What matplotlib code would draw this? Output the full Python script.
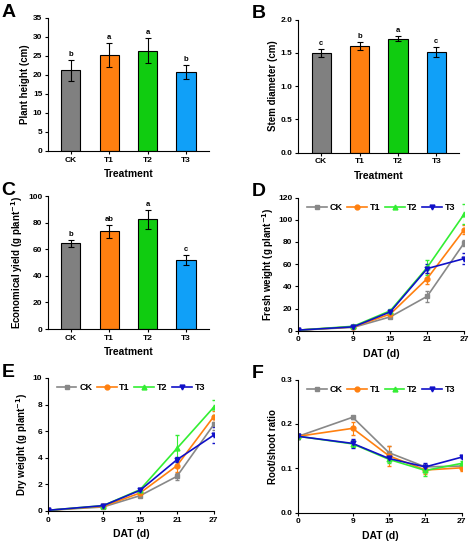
import numpy as np
import matplotlib
matplotlib.use("Agg")
import matplotlib.pyplot as plt
from matplotlib.lines import Line2D

plt.rcParams["font.family"] = ["Liberation Sans", "DejaVu Sans"]
plt.rcParams["font.weight"] = "bold"
plt.rcParams["axes.labelweight"] = "bold"
plt.rcParams["font.size"] = 6.5

# ---------------- data ----------------
treatments = ["CK", "T1", "T2", "T3"]
bar_colors = ["#808080", "#FF8010", "#10CC10", "#10A0F8"]
line_colors = ["#888888", "#FF8010", "#33EE33", "#1010C8"]
markers = ["s", "o", "^", "v"]

height = [21.2, 25.2, 26.4, 20.8]
height_err = [2.8, 3.2, 3.2, 1.8]
height_letters = ["b", "a", "a", "b"]

stem = [1.50, 1.60, 1.71, 1.51]
stem_err = [0.06, 0.06, 0.04, 0.07]
stem_letters = ["c", "b", "a", "c"]

yield_ = [64.5, 73.5, 82.5, 52.0]
yield_err = [2.5, 5.0, 7.0, 3.5]
yield_letters = ["b", "ab", "a", "c"]

days = [0, 9, 15, 21, 27]
fresh = {
    "CK": [0.5, 3.0, 12.5, 31, 79],
    "T1": [0.5, 3.5, 15.0, 47, 91],
    "T2": [0.5, 4.0, 18.0, 57, 105],
    "T3": [0.5, 3.5, 17.0, 56, 65],
}
fresh_err = {
    "CK": [0.3, 0.5, 1.0, 5, 3],
    "T1": [0.3, 0.5, 1.0, 5, 4],
    "T2": [0.3, 0.5, 1.5, 7, 9],
    "T3": [0.3, 0.5, 1.0, 4, 5],
}
dry = {
    "CK": [0.05, 0.30, 1.15, 2.6, 6.5],
    "T1": [0.05, 0.35, 1.35, 3.4, 7.1],
    "T2": [0.05, 0.40, 1.60, 4.7, 7.8],
    "T3": [0.05, 0.40, 1.55, 3.85, 5.7],
}
dry_err = {
    "CK": [0.02, 0.05, 0.1, 0.25, 0.4],
    "T1": [0.02, 0.05, 0.1, 0.5, 0.4],
    "T2": [0.02, 0.05, 0.1, 1.0, 0.55],
    "T3": [0.02, 0.05, 0.1, 0.2, 0.6],
}
ratio = {
    "CK": [0.172, 0.215, 0.135, 0.103, 0.105],
    "T1": [0.172, 0.190, 0.128, 0.096, 0.101],
    "T2": [0.172, 0.155, 0.120, 0.095, 0.111],
    "T3": [0.172, 0.156, 0.122, 0.103, 0.125],
}
ratio_err = {
    "CK": [0.005, 0.003, 0.015, 0.005, 0.005],
    "T1": [0.005, 0.015, 0.022, 0.008, 0.008],
    "T2": [0.005, 0.008, 0.008, 0.012, 0.005],
    "T3": [0.005, 0.010, 0.006, 0.008, 0.003],
}

fig = plt.figure(figsize=(4.74, 5.43), dpi=100)
left_x, right_x, w, h = 0.101, 0.629, 0.340, 0.245
rows = [0.722, 0.394, 0.059]


def style(ax):
    for s in ["top", "right"]:
        ax.spines[s].set_visible(False)
    ax.tick_params(width=0.8, length=2.5, pad=1.5, labelsize=6)
    for lab in ax.get_xticklabels() + ax.get_yticklabels():
        lab.set_fontweight("bold")


def add_tag(pos, tag):
    fig.text(pos[0] - 0.098, pos[1] + pos[3] - 0.005, tag, fontsize=14,
             fontweight="bold", va="bottom")


def bar_panel(pos, vals, errs, letters, ylim, yticks, ylabel, fmt, tag):
    ax = fig.add_axes(pos)
    x = np.arange(len(treatments))
    ax.bar(x, vals, width=0.5, color=bar_colors, edgecolor="black", linewidth=0.8,
           yerr=errs, capsize=2, error_kw=dict(elinewidth=0.8, capthick=0.8))
    for xi, v, e, l in zip(x, vals, errs, letters):
        ax.text(xi, v + e + ylim[1] * 0.015, l, ha="center", va="bottom", fontsize=5.5)
    ax.set_xlim(-0.6, 3.6)
    ax.set_ylim(*ylim)
    ax.set_yticks(yticks)
    ax.set_yticklabels([fmt.format(t) for t in yticks])
    ax.set_xticks(x)
    ax.set_xticklabels(treatments)
    ax.set_ylabel(ylabel, fontsize=7, labelpad=2)
    ax.set_xlabel("Treatment", fontsize=7.5, labelpad=4)
    style(ax)
    add_tag(pos, tag)
    return ax


def line_panel(pos, data, errs, ylim, yticks, ylabel, fmt, tag):
    ax = fig.add_axes(pos)
    handles = []
    for name, c, m in zip(treatments, line_colors, markers):
        ax.errorbar(days, data[name], yerr=errs[name], color=c, marker=m, markersize=3.5,
                    linewidth=1.2, elinewidth=0.8, capsize=1.5)
        handles.append(Line2D([], [], color=c, marker=m, markersize=3.5,
                              linewidth=1.2, label=name))
    ax.set_xlim(0, 27)
    ax.set_ylim(*ylim)
    ax.set_xticks(days)
    ax.set_yticks(yticks)
    ax.set_yticklabels([fmt.format(t) for t in yticks])
    ax.set_xlabel("DAT (d)", fontsize=7.5, labelpad=4)
    ax.set_ylabel(ylabel, fontsize=7, labelpad=2)
    ax.legend(handles=handles, loc="upper left", ncol=4, frameon=False,
              handlelength=2.2, columnspacing=0.5, handletextpad=0.3,
              borderaxespad=0.2, bbox_to_anchor=(0.02, 1.0),
              prop=dict(weight="bold", size=6.5))
    style(ax)
    add_tag(pos, tag)
    return ax


bar_panel([left_x, rows[0], w, h], height, height_err, height_letters, (0, 35),
          [0, 5, 10, 15, 20, 25, 30, 35], "Plant height (cm)", "{:.0f}", "A")
bar_panel([right_x, rows[0] - 0.003, w, h], stem, stem_err, stem_letters, (0, 2.0),
          [0, 0.5, 1.0, 1.5, 2.0], "Stem diameter (cm)", "{:.1f}", "B")
bar_panel([left_x, rows[1], w, h], yield_, yield_err, yield_letters, (0, 100),
          [0, 20, 40, 60, 80, 100], "Economical yield (g plant$^{-1}$)", "{:.0f}", "C")
line_panel([right_x, rows[1] - 0.003, 0.35, h], fresh, fresh_err, (0, 120),
           [0, 20, 40, 60, 80, 100, 120], "Fresh weight (g plant$^{-1}$)", "{:.0f}", "D")
line_panel([left_x, rows[2], 0.35, h], dry, dry_err, (0, 10),
           [0, 2, 4, 6, 8, 10], "Dry weight (g plant$^{-1}$)", "{:.0f}", "E")
line_panel([right_x, rows[2] - 0.003, 0.345, h], ratio, ratio_err, (0, 0.3),
           [0, 0.1, 0.2, 0.3], "Root/shoot ratio", "{:.1f}", "F")

fig.savefig("out.png", dpi=100)
